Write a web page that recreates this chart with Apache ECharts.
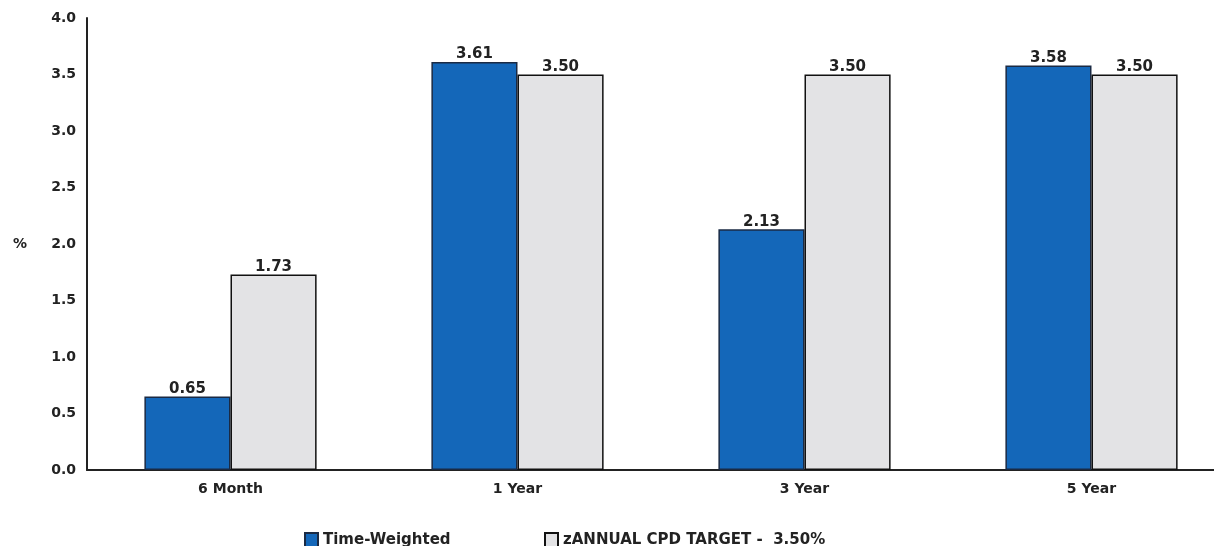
<!DOCTYPE html>
<html>
<head>
<meta charset="utf-8">
<script src="https://cdn.jsdelivr.net/npm/echarts@6/dist/echarts.min.js"></script>
<style>
    html, body { margin:0; padding:0; background:#fff; }
    #chart { width:1214px; height:546px; }
</style>
</head>
<body>
<div id="chart"></div>
<script>
    var categories = ['6 Month', '1 Year', '3 Year', '5 Year']
    var timeWeighted = [0.65, 3.61, 2.13, 3.58]
    var cpdTarget = [1.73, 3.50, 3.50, 3.50]
    var seriesNames = ['Time-Weighted', 'zANNUAL CPD TARGET -  3.50%']

    var myChart = echarts.init(document.getElementById('chart'))
    // the scan is wide, so a wide sans face fits it better
    var font = 'DejaVu Sans, Liberation Sans, Arial, sans-serif'

    var labelStyle = {
        show: true,
        position: 'top',
        distance: 0,
        color: '#222',
        fontFamily: font,
        fontSize: 15,
        fontWeight: 'bold',
        formatter: function (p) { return p.value.toFixed(2) }
    }

    var legendText = { color: '#222', fontFamily: font, fontSize: 15, fontWeight: 'bold' }

    var option = {
        backgroundColor: '#fff',
        animation: false,
        legend: [
            {
                data: [{ name: seriesNames[0], icon: 'rect' }],
                left: 299,
                top: 527,
                itemWidth: 13,
                itemHeight: 15,
                itemGap: 5,
                textStyle: legendText
            },
            {
                data: [{ name: seriesNames[1], icon: 'rect' }],
                left: 539,
                top: 527,
                itemWidth: 13,
                itemHeight: 15,
                itemGap: 5,
                textStyle: legendText
            }
        ],
        grid: {
            left: 87,
            top: 18,
            width: 1148,
            bottom: 76,
            outerBoundsMode: 'none'
        },
        xAxis: {
            type: 'category',
            data: categories,
            axisLine: { show: true, lineStyle: { color: '#222', width: 2 } },
            axisTick: { show: false },
            axisLabel: {
                color: '#222',
                fontFamily: font,
                fontSize: 14,
                fontWeight: 'bold',
                margin: 12
            }
        },
        yAxis: {
            type: 'value',
            min: 0,
            max: 4,
            interval: 0.5,
            name: '%',
            nameLocation: 'middle',
            nameGap: 60,
            nameRotate: 0,
            nameTextStyle: { color: '#222', fontFamily: font, fontSize: 14, fontWeight: 'bold' },
            axisLine: { show: true, lineStyle: { color: '#222', width: 2 } },
            axisTick: { show: false },
            splitLine: { show: false },
            axisLabel: {
                color: '#222',
                fontFamily: font,
                fontSize: 14,
                fontWeight: 'bold',
                margin: 11,
                formatter: function (v) { return v.toFixed(1) }
            }
        },
        series: [
            {
                name: seriesNames[0],
                type: 'bar',
                data: timeWeighted,
                barGap: 0,
                barCategoryGap: '40%',
                itemStyle: { color: '#1467b9', borderColor: '#1a2a44', borderWidth: 1.5 },
                label: labelStyle
            },
            {
                name: seriesNames[1],
                type: 'bar',
                data: cpdTarget,
                barGap: 0,
                barCategoryGap: '40%',
                itemStyle: { color: '#e3e3e5', borderColor: '#111', borderWidth: 1.5 },
                label: labelStyle
            }
        ]
    }
    myChart.setOption(option)
</script>
</body>
</html>
